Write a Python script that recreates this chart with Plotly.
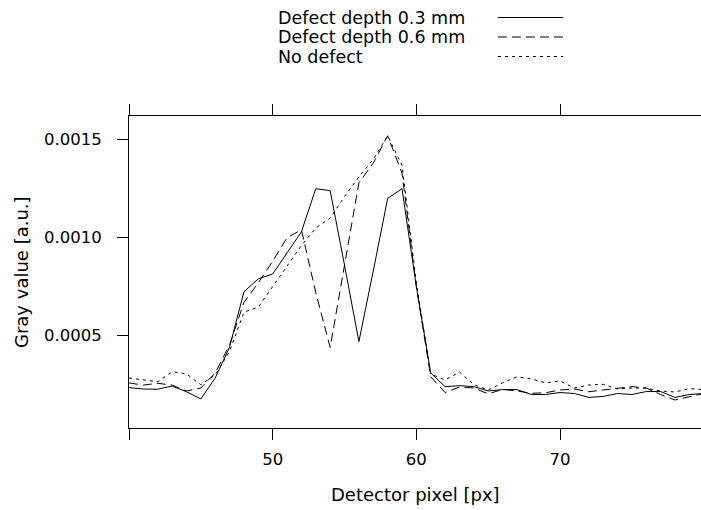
import plotly.graph_objects as go

pixels = list(range(40, 81))

depth_03 = [0.000235, 0.000228, 0.000227, 0.000243, 0.000214, 0.000177, 0.000284, 0.000442,
            0.000724, 0.00079, 0.000815, 0.00092, 0.00103, 0.00125, 0.00124, 0.00086,
            0.00047, 0.00083, 0.0012, 0.00125, 0.00075, 0.00031, 0.00024, 0.000245,
            0.00024, 0.000218, 0.000225, 0.000225, 0.0002, 0.0002, 0.00021, 0.000205,
            0.000185, 0.00019, 0.000205, 0.0002, 0.000215, 0.000215, 0.000185, 0.0002, 0.000205]

depth_06 = [0.000259, 0.000248, 0.000257, 0.000248, 0.000218, 0.000233, 0.00031, 0.000453,
            0.00067, 0.00077, 0.00088, 0.001, 0.00104, 0.00072, 0.00044, 0.00085,
            0.00128, 0.00138, 0.00152, 0.00133, 0.00075, 0.00029, 0.00021, 0.000238,
            0.000233, 0.000203, 0.000226, 0.000218, 0.000206, 0.000209, 0.000223, 0.000228,
            0.000214, 0.000223, 0.000233, 0.00024, 0.000233, 0.0002, 0.000172, 0.000189, 0.000205]

no_defect = [0.000284, 0.000274, 0.000265, 0.000316, 0.000305, 0.00025, 0.0003, 0.00042,
             0.00062, 0.000646, 0.00075, 0.00086, 0.00096, 0.00105, 0.0011, 0.00121,
             0.00131, 0.0014, 0.00152, 0.00137, 0.00077, 0.000305, 0.000274, 0.000315,
             0.00025, 0.000223, 0.000259, 0.00029, 0.00028, 0.000259, 0.000269, 0.000233,
             0.000248, 0.000252, 0.000228, 0.000233, 0.000232, 0.000218, 0.000213, 0.00023, 0.000225]

series_names = ["Defect depth 0.3 mm", "Defect depth 0.6 mm", "No defect"]
series_dash = ["solid", "9px,5px", "3px,4px"]
x_tickvals = [40, 50, 60, 70]
x_ticktext = ["", "50", "60", "70"]
y_tickvals = [0.0005, 0.0010, 0.0015]
y_ticktext = ["0.0005", "0.0010", "0.0015"]

FONT = "DejaVu Sans, Liberation Sans, Arial, sans-serif"

fig = go.Figure()
for name, ys, dash in zip(series_names, [depth_03, depth_06, no_defect], series_dash):
    fig.add_trace(go.Scatter(x=pixels, y=ys, mode="lines", name=name,
                             line=dict(color="black", width=1, dash=dash),
                             showlegend=False))

# legend drawn as text + line samples (text left, sample right)
row_y = [(428 - 17.5) / 312, (428 - 37) / 312, (428 - 56.5) / 312]
for name, dash, yy in zip(series_names, series_dash, row_y):
    fig.add_annotation(x=0.258, y=yy, xref="paper", yref="paper", text=name,
                       showarrow=False, xanchor="left", yanchor="middle", borderpad=0,
                       font=dict(family=FONT, size=17.5, color="black"))
    fig.add_shape(type="line", xref="paper", yref="paper", x0=0.645, x1=0.759,
                  y0=yy, y1=yy, line=dict(color="black", width=1, dash=dash))

fig.add_annotation(x=0.5, y=-0.2147, xref="paper", yref="paper", text="Detector pixel [px]",
                   showarrow=False, xanchor="center", yanchor="middle",
                   font=dict(family=FONT, size=18, color="black"))
fig.add_annotation(x=-0.1888, y=0.5, xref="paper", yref="paper", text="Gray value [a.u.]",
                   showarrow=False, xanchor="center", yanchor="middle", textangle=-90,
                   font=dict(family=FONT, size=18, color="black"))

fig.update_xaxes(range=[40, 79.81], tickvals=x_tickvals, ticktext=x_ticktext,
                 showline=True, linecolor="black", linewidth=1, mirror="ticks",
                 ticks="outside", ticklen=11, tickcolor="black", tickwidth=1,
                 showgrid=False, zeroline=False, ticklabelstandoff=5,
                 tickfont=dict(family=FONT, size=16.5, color="black"))
fig.update_yaxes(range=[0.000029, 0.001621], tickvals=y_tickvals, ticktext=y_ticktext,
                 showline=True, linecolor="black", linewidth=1,
                 ticks="outside", ticklen=11, tickcolor="black", tickwidth=1,
                 showgrid=False, zeroline=False, ticklabelstandoff=12,
                 tickfont=dict(family=FONT, size=16.5, color="black"))

fig.update_layout(width=701, height=510, margin=dict(l=129, r=0, t=116, b=82),
                  paper_bgcolor="white", plot_bgcolor="white")

fig.write_html("out.html")
